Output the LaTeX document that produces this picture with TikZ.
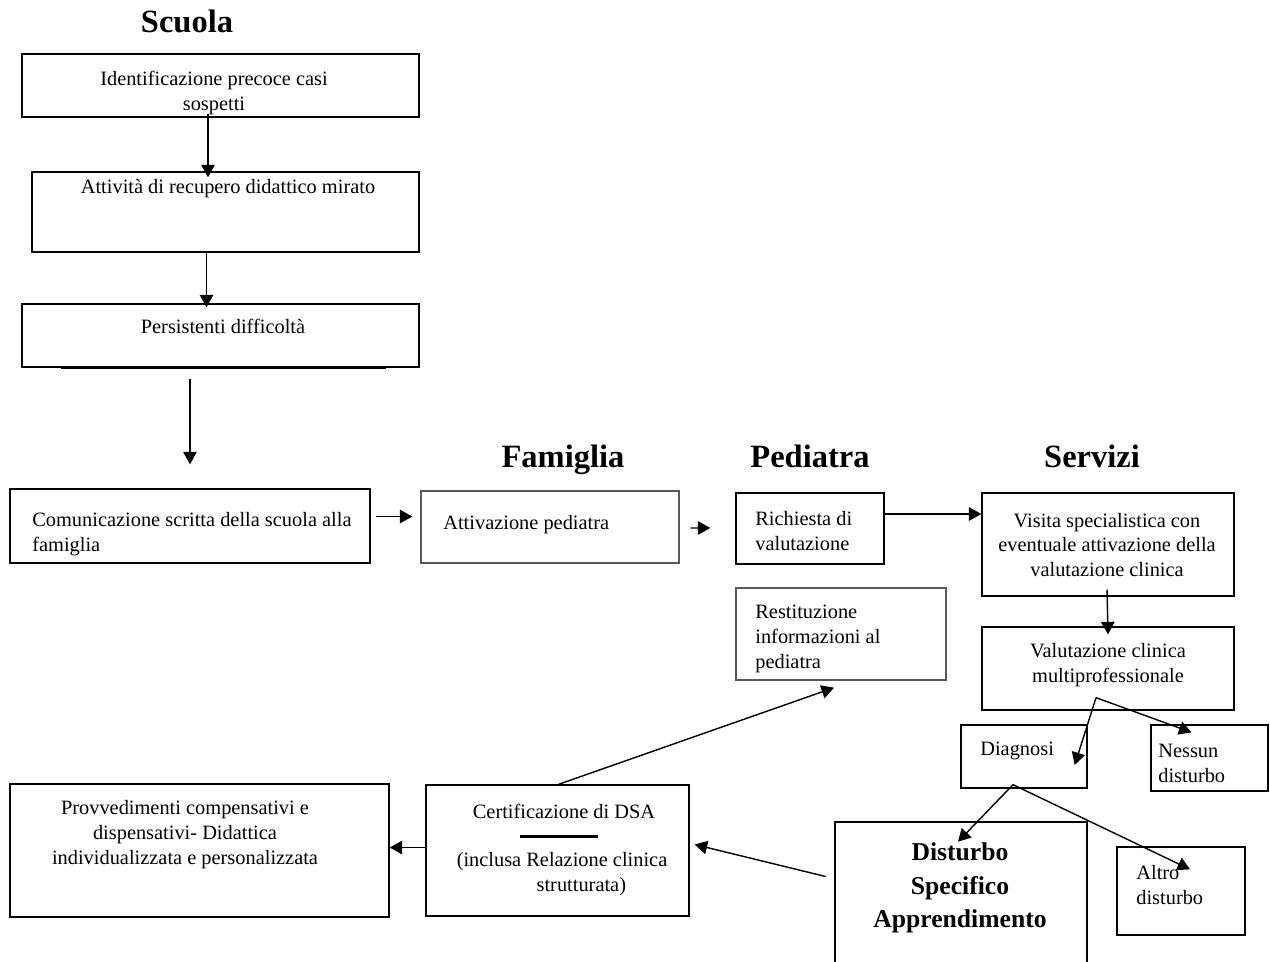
\documentclass[tikz,border=0pt]{standalone}
\usepackage{fontspec}
\setmainfont{Liberation Serif}
\usepackage{tikz}
\usetikzlibrary{arrows.meta,positioning,calc,fit}

\begin{document}
\begin{tikzpicture}[x=0.02cm,y=-0.02cm,
  box/.style={draw,line width=0.75pt,inner sep=0pt},
  softbox/.style={box,draw=black!65},
  dsabox/.style={draw,line width=1.5pt,inner sep=0pt},
  txt/.style={inner sep=0pt,font=\fontsize{11.6}{14.2}\selectfont},
  title/.style={inner sep=0pt,anchor=base,font=\bfseries\fontsize{18.5}{22}\selectfont},
  arr/.style={line width=0.8pt,-{Triangle[length=0.25cm,width=0.27cm]}}]
\useasboundingbox (0,0) rectangle (1270,961);

\node[title] (scuola) at (187,32) {Scuola};
\node[title] (famiglia) at (563,467) {Famiglia};
\node[title] (pediatra) at (810,467) {Pediatra};
\node[title] (servizi) at (1092,467) {Servizi};

\node[box,fit={(22,54) (419,117)}] (ident) {};
\node[txt,align=center] (identtxt) at (214,93) {Identificazione precoce casi\\sospetti};
\node[box,fit={(32,172) (419,252)}] (attiv) {};
\node[txt] (attivtxt) at (228,189) {Attività di recupero didattico mirato};
\node[box,fit={(22,304) (419,367)}] (persist) {};
\node[txt] (persisttxt) at (223,326) {Persistenti difficoltà};
\draw[line width=1.2pt] ($(persist.south west)+(40,0)$) -- ($(persist.south east)+(-34,0)$);

\node[box,fit={(10,489) (370,563)}] (comun) {};
\node[txt,align=left,anchor=west] (comuntxt) at (32,534) {Comunicazione scritta della scuola alla\\famiglia};
\node[softbox,fit={(421,491) (679,563)}] (attivaz) {};
\node[txt,anchor=west] (attivaztxt) at (443,525) {Attivazione pediatra};
\node[box,fit={(736,493) (884,564)}] (richiesta) {};
\node[txt,align=left,anchor=west] (richiestatxt) at (755,531) {Richiesta di\\valutazione};
\node[box,fit={(982,493) (1234,596)}] (visita) {};
\node[txt,align=center] (visitatxt) at (1107,545) {Visita specialistica con\\eventuale attivazione della\\valutazione clinica};
\node[softbox,fit={(736,588) (946,680)}] (restit) {};
\node[txt,align=left,anchor=west] (restittxt) at (755,639) {Restituzione\\informazioni al\\pediatra};
\node[box,fit={(982,627) (1234,710)}] (valut) {};
\node[txt,align=center] (valuttxt) at (1108,665) {Valutazione clinica\\multiprofessionale};
\node[box,fit={(961,725) (1087,788)}] (diagnosi) {};
\node[txt,anchor=west] (diagnositxt) at (980,751) {Diagnosi};
\node[box,fit={(1151,725) (1268,791)}] (nessun) {};
\node[txt,align=left,anchor=west] (nessuntxt) at (1158,763) {Nessun\\disturbo};
\node[dsabox,fit={(835,822) (1087,975)}] (dsa) {};
\node[inner sep=0pt,align=center,font=\bfseries\fontsize{14.6}{19}\selectfont] (dsatxt) at (960,888) {Disturbo\\Specifico\\Apprendimento};
\node[box,fit={(1117,847) (1245,935)}] (altro) {};
\node[txt,align=left,anchor=west] (altrotxt) at (1136,885) {Altro\\disturbo};

\node[box,fit={(426,785) (689,916)}] (certif) {};
\node[txt] (certiftxt) at (564,811) {Certificazione di DSA};
\draw[line width=1.6pt] ($(certif.north)+(-37.5,52)$) -- ++(78,0);
\node[txt,align=center] (certifnote) at (562,874) {(inclusa Relazione clinica\\\hspace*{22pt}strutturata)};
\node[box,fit={(10,784) (389,917)}] (provv) {};
\node[txt,align=center] (provvtxt) at (185,835) {Provvedimenti compensativi e\\dispensativi- Didattica\\individualizzata e personalizzata};

\draw[arr] ($(ident.south)+(-12.5,-4)$) -- ($(attiv.north)+(-17.5,6)$);
\draw[arr] ($(attiv.south)+(-19,0)$) -- ($(persist.north)+(-14,4)$);
\draw[arr] ($(persist.south)+(-30.5,11)$) -- ($(comun.north)+(0,-24)$);
\draw[arr] ($(comun.east)+(5,-9.5)$) -- ($(attivaz.west)+(-8,-10.5)$);
\draw[arr] ($(attivaz.east)+(11,1)$) -- ($(richiesta.west)+(-25,-0.5)$);
\draw[arr] ($(richiesta.east)+(0,-14.5)$) -- ($(visita.west)+(0,-30.5)$);
\draw[arr] ($(visita.south)+(-1,-7)$) -- ($(valut.north)+(0,8)$);
\coordinate (split1) at ($(valut.south)+(-12,-13)$);
\draw[arr] (split1) -- ($(diagnosi.east)+(-13,8.5)$);
\draw[arr] (split1) -- ($(nessun.north)+(-18,8)$);
\coordinate (split2) at ($(diagnosi.south)+(-11,-4)$);
\draw[arr] (split2) -- ($(dsa.north)+(-3,21)$);
\draw[arr] (split2) -- ($(altro.north)+(9,23)$);
\draw[arr] ($(dsa.west)+(-8,-22)$) -- ($(certif.east)+(5,-6)$);
\draw[arr] ($(certif.north)+(1,0)$) -- ($(restit.south)+(-7,7)$);
\draw[arr] ($(certif.west)+(0,-3)$) -- ($(provv.east)+(0,-3)$);
\end{tikzpicture}
\end{document}
